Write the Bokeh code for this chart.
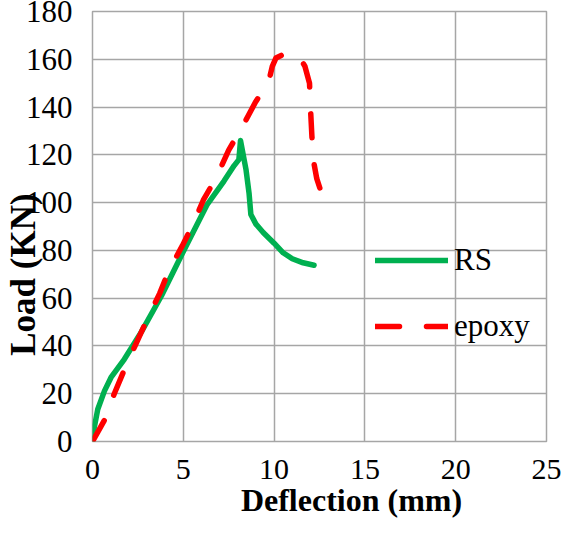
import numpy as np
from bokeh.plotting import figure
from bokeh.models import Range1d, Legend, LegendItem, FixedTicker
from bokeh.embed import file_html
from bokeh.resources import INLINE

# Data
rs_x = [0, 0.1, 0.29, 0.66, 1.02, 1.75, 2.7, 3.8, 4.9, 6.3, 7.24, 7.8, 8.06, 8.15,
        8.45, 8.62, 8.72, 9.0, 9.4, 10.0, 10.5, 11.0, 11.6, 12.2]
rs_y = [0, 6, 13.5, 21.2, 26.8, 34.4, 46, 61, 78, 99, 109, 115.5, 118, 126,
        114, 104, 95, 91, 87.5, 83, 79, 76.5, 74.8, 73.8]

epoxy_x = [0, 0.66, 1.2, 1.75, 2.4, 3.0, 3.7, 4.2, 4.95, 5.6, 6.1, 6.85, 7.5, 8.2, 8.97, 9.7,
           9.9, 10.1, 10.5, 11.0, 11.4, 11.7, 11.95, 12.0, 12.08, 12.17, 12.35, 12.54, 12.72]
epoxy_y = [0, 9, 20, 30, 41, 51, 62, 71.5, 82, 92, 101, 111, 122, 131, 142, 150.6,
           157, 160.5, 162, 162, 161, 157, 150, 140, 128, 117.5, 110, 105.6, 99.3]

x_ticks = [0, 5, 10, 15, 20, 25]
y_ticks = [0, 20, 40, 60, 80, 100, 120, 140, 160, 180]

FONT = "Liberation Serif"
GRID = "#A6A6A6"
NBSP = "\u00a0"

p = figure(width=564, height=520, output_backend="svg", toolbar_location=None,
           x_range=Range1d(0, 25), y_range=Range1d(0, 180),
           min_border_left=90, min_border_right=18, min_border_top=11, min_border_bottom=79)

p.outline_line_color = GRID
p.outline_line_width = 1.5

for ax in (p.xaxis, p.yaxis):
    ax.axis_line_color = None
    ax.major_tick_line_color = None
    ax.minor_tick_line_color = None
    ax.major_tick_out = 0
    ax.major_tick_in = 0
    ax.major_label_text_font = FONT
    ax.major_label_text_color = "black"
    ax.axis_label_text_font = FONT
    ax.axis_label_text_font_style = "bold"
    ax.axis_label_text_color = "black"

p.xaxis.major_label_text_font_size = "30px"
p.yaxis.major_label_text_font_size = "31px"
p.xaxis.ticker = FixedTicker(ticks=x_ticks)
p.yaxis.ticker = FixedTicker(ticks=y_ticks)
p.xaxis.major_label_standoff = 18
p.yaxis.major_label_standoff = 20

p.xaxis.axis_label = NBSP * 8 + "Deflection (mm)"
p.xaxis.axis_label_text_font_size = "32px"
p.xaxis.axis_label_standoff = 0
p.yaxis.axis_label = "Load (KN)" + NBSP * 11
p.yaxis.axis_label_text_font_size = "35px"
p.yaxis.axis_label_standoff = -20

p.xgrid.grid_line_color = GRID
p.ygrid.grid_line_color = GRID
p.xgrid.grid_line_width = 1.5
p.ygrid.grid_line_width = 1.5
p.xgrid.ticker = FixedTicker(ticks=x_ticks)
p.ygrid.ticker = FixedTicker(ticks=y_ticks)

r_rs = p.line(rs_x, rs_y, line_color="#00B050", line_width=5.5, line_cap="round", line_join="round")
r_ep = p.line(epoxy_x, epoxy_y, line_color="#FF0000", line_width=5.5, line_cap="round",
              line_join="round", line_dash="24 27")

legend = Legend(items=[LegendItem(label="RS", renderers=[r_rs]),
                       LegendItem(label="epoxy", renderers=[r_ep])],
                location=(283, 95), border_line_color=None, background_fill_alpha=0,
                glyph_width=73, glyph_height=40, label_height=40, spacing=26,
                padding=0, margin=0, label_standoff=6,
                label_text_font=FONT, label_text_font_size="31px", label_text_color="black")
p.add_layout(legend)

open("out.html", "w").write(file_html(p, INLINE))
